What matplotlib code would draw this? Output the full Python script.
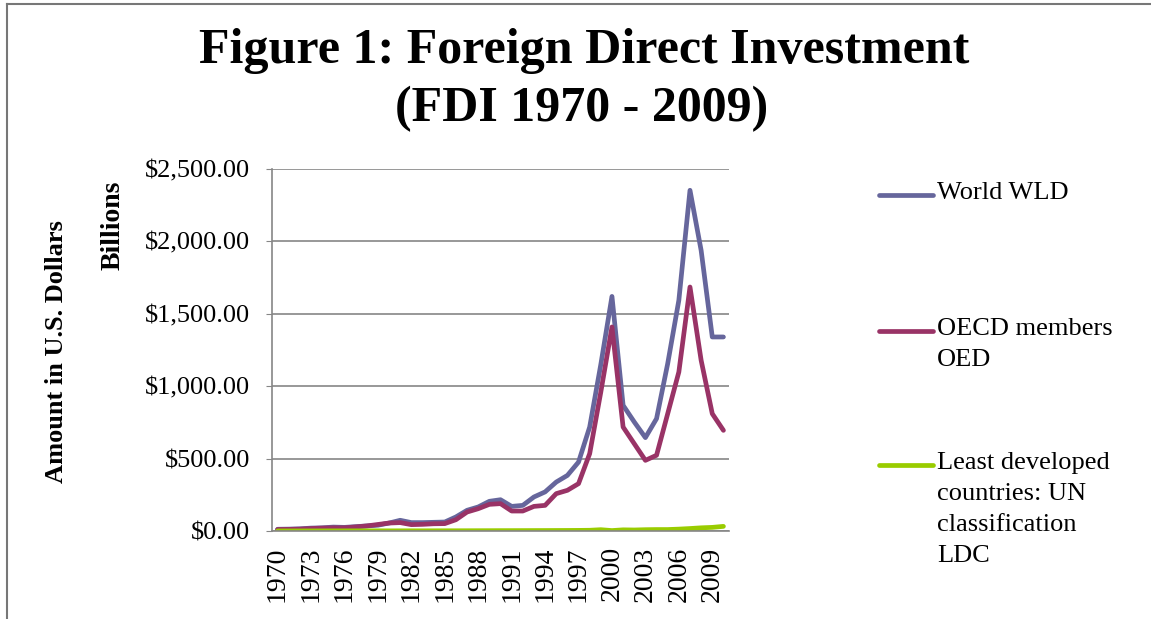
import matplotlib
matplotlib.use("Agg")
import matplotlib.pyplot as plt
from matplotlib.lines import Line2D
import numpy as np

years = list(range(1970, 2011))
world = [12, 13, 15, 20, 22, 27, 25, 30, 35, 40, 55, 74, 58, 58, 60, 62,
         97, 143, 166, 205, 216, 170, 177, 235, 270, 338, 384, 476, 718, 1150,
         1620, 868, 753, 645, 776, 1156, 1593, 2353, 1938, 1340, 1340]
oecd = [10, 11, 13, 17, 20, 22, 22, 28, 35, 45, 55, 58, 44, 46, 50, 51,
        78, 131, 154, 184, 189, 138, 138, 170, 177, 258, 281, 327, 534, 960,
        1409, 718, 603, 488, 523, 810, 1098, 1685, 1179, 810, 695]
ldc = [0.5, 0.5, 0.6, 0.7, 0.8, 1.0, 1.0, 1.1, 1.2, 1.3, 1.0, 1.2, 1.3, 1.2, 1.4, 1.5,
       1.6, 1.8, 2.0, 2.2, 2.5, 2.6, 2.8, 3.0, 3.2, 3.5, 3.8, 4.2, 5.0, 9.0,
       3.0, 8.0, 7.0, 9.0, 10.0, 10.0, 13.0, 17.0, 22.0, 25.0, 32.0]
series_names = ["World WLD", "OECD members\nOED", "Least developed\ncountries: UN\nclassification\nLDC"]
colors = ["#66669c", "#993366", "#99cc00"]
yticks = [0, 500, 1000, 1500, 2000, 2500]
ytick_labels = ["$0.00", "$500.00", "$1,000.00", "$1,500.00", "$2,000.00", "$2,500.00"]

W, H = 1151, 619
fig = plt.figure(figsize=(W / 100, H / 100), dpi=100)
serif = ["Liberation Serif", "DejaVu Serif"]

ax = fig.add_axes([272 / W, 1 - 531 / H, (729 - 272) / W, (531 - 169) / H])
x = np.arange(len(years))
for vals, c in zip([world, oecd, ldc], colors):
    ax.plot(x, vals, color=c, lw=3.4, solid_capstyle="round", solid_joinstyle="round")

ax.set_xlim(-0.5, len(years) - 0.5)
ax.set_ylim(0, 2500)
ax.set_yticks(yticks)
ax.set_yticklabels(ytick_labels, fontfamily=serif, fontsize=19)
ax.set_xticks(x[::3])
ax.set_xticklabels([str(years[i]) for i in range(0, len(years), 3)],
                   rotation=90, fontfamily=serif, fontsize=20)
ax.tick_params(axis="x", length=0, pad=11)
ax.tick_params(axis="y", length=4, color="#868686", pad=12)
ax.grid(axis="y", color="#868686", lw=1.2)
ax.set_axisbelow(True)
for s in ["right", "top"]:
    ax.spines[s].set_visible(False)
for s in ["left", "bottom"]:
    ax.spines[s].set_color("#868686")
    ax.spines[s].set_linewidth(1.2)

# titles / labels
fig.text(584 / W, 1 - 51 / H, "Figure 1: Foreign Direct Investment", ha="center", va="center",
         fontfamily=serif, fontweight="bold", fontsize=36)
fig.text(582 / W, 1 - 109 / H, "(FDI 1970 - 2009)", ha="center", va="center",
         fontfamily=serif, fontweight="bold", fontsize=36)
fig.text(57 / W, 1 - 352 / H, "Amount in U.S. Dollars", rotation=90, ha="center", va="center",
         fontfamily=serif, fontweight="bold", fontsize=19)
fig.text(113 / W, 1 - 225 / H, "Billions", rotation=90, ha="center", va="center",
         fontfamily=serif, fontweight="bold", fontsize=20)

# legend
leg_y = [195, 331, 465]
for name, c, yy in zip(series_names, colors, leg_y):
    fig.add_artist(Line2D([879 / W, 933 / W], [1 - yy / H, 1 - yy / H], color=c, lw=3.4,
                          solid_capstyle="round"))
    fig.text(937 / W, 1 - (yy - 13) / H, name, ha="left", va="top", fontfamily=serif,
             fontsize=19, linespacing=1.52)

# outer frame lines
fig.add_artist(Line2D([7 / W, 1], [1 - 4 / H, 1 - 4 / H], color="#777777", lw=1.5))
fig.add_artist(Line2D([7 / W, 7 / W], [0, 1 - 4 / H], color="#777777", lw=1.5))

fig.savefig("out.png", dpi=100)
